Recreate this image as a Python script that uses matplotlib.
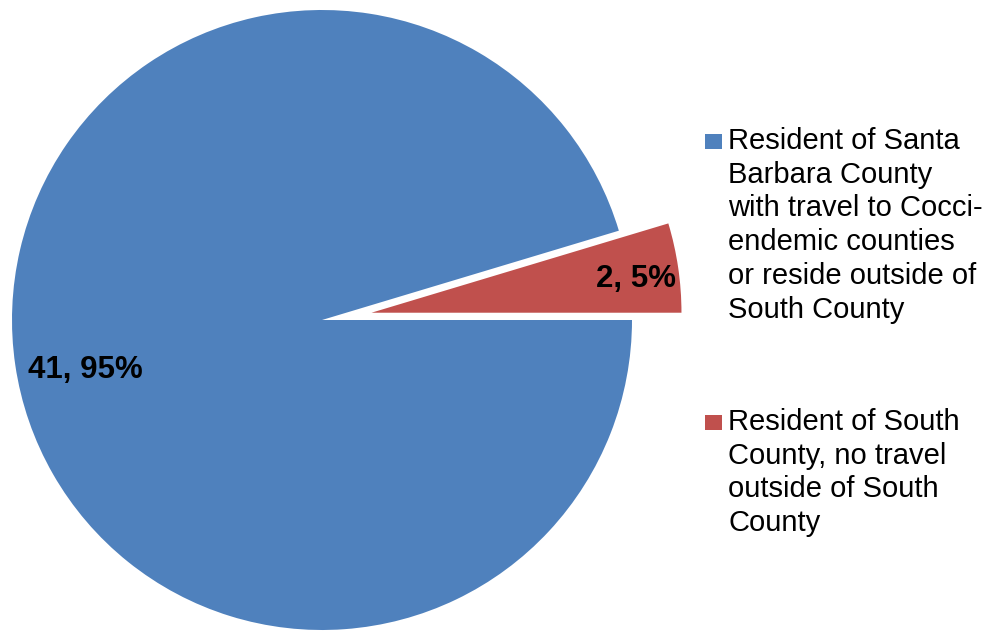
import numpy as np
import matplotlib.pyplot as plt
from matplotlib.patches import Rectangle

plt.rcParams['font.family'] = ['Liberation Sans', 'DejaVu Sans']

# data (red slice drawn first so it sits at 0..17 degrees)
categories = ["Resident of South\nCounty, no travel\noutside of South\nCounty",
              "Resident of Santa\nBarbara County\nwith travel to Cocci-\nendemic counties\nor reside outside of\nSouth County"]
counts = [2, 41]
colors = ["#C0504D", "#4F81BD"]
legend_order = [1, 0]

W, H = 991, 631
fig = plt.figure(figsize=(W / 100, H / 100), dpi=100)
ax = fig.add_axes([0, 0, 1, 1])

R = 310
cx, cy = 322, H - 320
# explode is in data units here (pixels)
wedges, _ = ax.pie(counts, colors=colors, startangle=0, counterclock=True,
                   explode=[50, 0], radius=R, center=(cx, cy),
                   wedgeprops=dict(linewidth=0))
ax.set_xlim(0, W)
ax.set_ylim(0, H)
ax.set_aspect('equal')
ax.axis('off')

# data labels
total = sum(counts)
label_pos = [(0.86, -1.0), (0.78, 3.5)]  # (fraction of radius, angle offset deg)
for w, n, (frac, off) in zip(wedges, counts, label_pos):
    ang = np.deg2rad((w.theta1 + w.theta2) / 2 + off)
    x = w.center[0] + frac * w.r * np.cos(ang)
    y = w.center[1] + frac * w.r * np.sin(ang)
    ax.text(x, y, f"{n}, {round(100 * n / total)}%", ha='center', va='center',
            fontsize=22.5, fontweight='bold', color='black')

# legend
tops = [127, 408]
for i, top in zip(legend_order, tops):
    fig.add_artist(Rectangle((705 / W, 1 - (top + 22) / H), 17 / W, 15 / H,
                             transform=fig.transFigure, color=colors[i], lw=0))
    fig.text(728 / W, 1 - top / H, categories[i], ha='left', va='top',
             fontsize=21, color='black', linespacing=1.26)

fig.savefig("out.png", dpi=100)
